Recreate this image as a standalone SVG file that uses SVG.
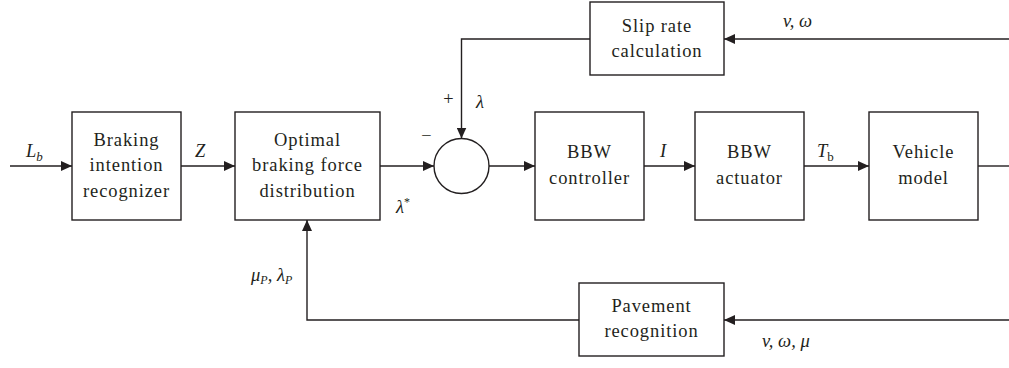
<svg xmlns="http://www.w3.org/2000/svg" width="1009" height="368" viewBox="0 0 1009 368">
<style>
.box{fill:#fff;stroke:#231f20;stroke-width:1.4}
.ln{fill:none;stroke:#231f20;stroke-width:1.4}
.t{font-family:"Liberation Serif",serif;font-size:18.5px;letter-spacing:0.9px;fill:#231f20;text-anchor:middle}
.l{font-family:"Liberation Serif",serif;font-size:18.5px;font-style:italic;fill:#231f20}
.u{font-style:normal}
</style>
<defs>
<marker id="ah" markerWidth="11" markerHeight="10" refX="11" refY="5" orient="auto" markerUnits="userSpaceOnUse">
<path d="M0,0 L11,5 L0,10 Z" fill="#231f20"/>
</marker>
</defs>
<rect width="1009" height="368" fill="#fff"/>
<g id="connectors">
<line class="ln" x1="10" y1="166" x2="72" y2="166" marker-end="url(#ah)"/>
<line class="ln" x1="181" y1="166" x2="235" y2="166" marker-end="url(#ah)"/>
<line class="ln" x1="380" y1="166" x2="434" y2="166" marker-end="url(#ah)"/>
<line class="ln" x1="489" y1="166" x2="535" y2="166" marker-end="url(#ah)"/>
<line class="ln" x1="644" y1="166" x2="695" y2="166" marker-end="url(#ah)"/>
<line class="ln" x1="804" y1="166" x2="869" y2="166" marker-end="url(#ah)"/>
<line class="ln" x1="978" y1="166" x2="1009" y2="166"/>
<line class="ln" x1="1009" y1="39" x2="724" y2="39" marker-end="url(#ah)"/>
<polyline class="ln" points="590,39 461.5,39 461.5,138.5" marker-end="url(#ah)"/>
<line class="ln" x1="1009" y1="320" x2="724" y2="320" marker-end="url(#ah)"/>
<polyline class="ln" points="579,320 307,320 307,220" marker-end="url(#ah)"/>
</g>
<g id="braking">
<rect class="box" x="72" y="112" width="109" height="108"/>
<text class="t" x="126.5" y="146">Braking</text>
<text class="t" x="126.5" y="171">intention</text>
<text class="t" x="126.5" y="197">recognizer</text>
</g>
<g id="optimal">
<rect class="box" x="235" y="112" width="145" height="108"/>
<text class="t" x="307.5" y="146">Optimal</text>
<text class="t" x="307.5" y="171">braking force</text>
<text class="t" x="307.5" y="197">distribution</text>
</g>
<g id="sum">
<circle class="box" cx="461.5" cy="166" r="27.5"/>
</g>
<g id="controller">
<rect class="box" x="535" y="112" width="109" height="108"/>
<text class="t" x="589.5" y="158">BBW</text>
<text class="t" x="589.5" y="184">controller</text>
</g>
<g id="actuator">
<rect class="box" x="695" y="112" width="109" height="108"/>
<text class="t" x="749.5" y="158">BBW</text>
<text class="t" x="749.5" y="184">actuator</text>
</g>
<g id="vehicle">
<rect class="box" x="869" y="112" width="109" height="108"/>
<text class="t" x="923.5" y="158">Vehicle</text>
<text class="t" x="923.5" y="184">model</text>
</g>
<g id="slip">
<rect class="box" x="590" y="2" width="134" height="73"/>
<text class="t" x="657" y="32">Slip rate</text>
<text class="t" x="657" y="57">calculation</text>
</g>
<g id="pavement">
<rect class="box" x="579" y="283" width="145" height="73"/>
<text class="t" x="651.5" y="312">Pavement</text>
<text class="t" x="651.5" y="337">recognition</text>
</g>
<g id="labels">
<text class="l" x="26" y="157">L<tspan font-size="13" dy="4">b</tspan></text>
<text class="l" x="195" y="157">Z</text>
<text class="l" x="420" y="142" font-style="normal">−</text>
<text class="l" x="442" y="105" font-style="normal">+</text>
<text class="l" x="476" y="108">λ</text>
<text class="l" x="396" y="213">λ<tspan class="u" font-size="12" dy="-7">*</tspan></text>
<text class="l" x="660" y="157">I</text>
<text class="l" x="817" y="157">T<tspan class="u" font-size="13" dy="4">b</tspan></text>
<text class="l" x="783" y="27">v, ω</text>
<text class="l" x="762" y="347">v, ω, μ</text>
<text class="l" x="251" y="281">μ<tspan font-size="12" dy="3">P</tspan><tspan dy="-3">, λ</tspan><tspan font-size="12" dy="3">P</tspan></text>
</g>
</svg>
